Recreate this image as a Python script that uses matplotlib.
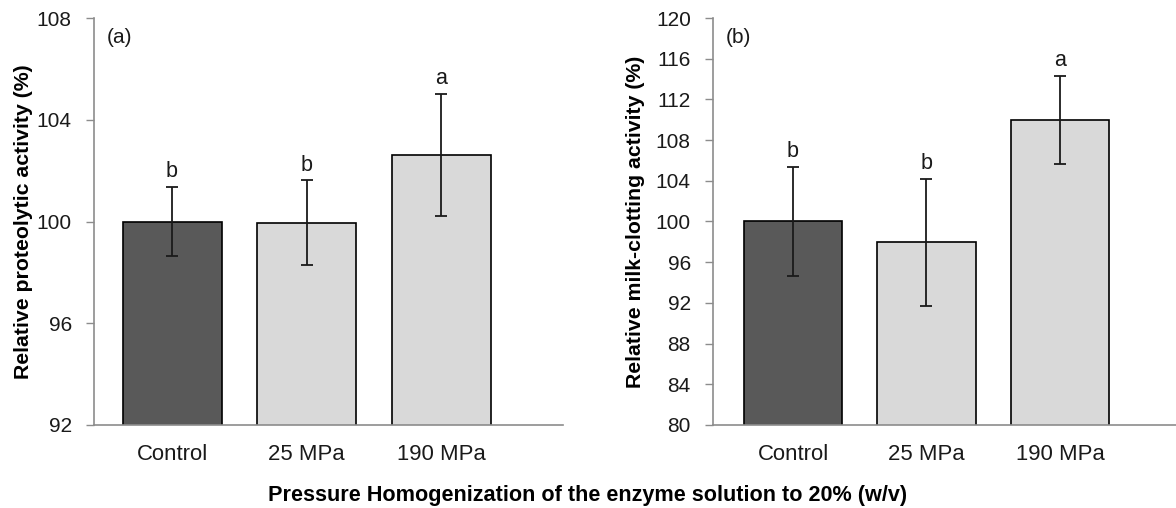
import numpy as np
import matplotlib
matplotlib.use("Agg")
import matplotlib.pyplot as plt

plt.rcParams['font.family'] = ['Liberation Sans', 'DejaVu Sans']

categories = ['Control', '25 MPa', '190 MPa']

prot_mean = [100.0, 99.95, 102.63]
prot_err = [1.37, 1.67, 2.40]
prot_letters = ['b', 'b', 'a']

clot_mean = [100.0, 97.95, 110.0]
clot_err = [5.4, 6.27, 4.3]
clot_letters = ['b', 'b', 'a']

bar_colors = ['#595959', '#d9d9d9', '#d9d9d9']
axis_grey = '#8c8c8c'
text_col = '#1a1a1a'

fig = plt.figure(figsize=(11.76, 5.08), dpi=100)
ax_a = fig.add_axes([94 / 1176, 1 - 425 / 508, 469 / 1176, 407 / 508])
ax_b = fig.add_axes([713 / 1176, 1 - 425 / 508, 463 / 1176, 407 / 508])


def draw_panel(ax, means, errs, letters, ylim, yticks, ylabel, tag, xlim, ylab_x):
    x = np.arange(len(categories))
    ax.bar(x, means, width=0.736, color=bar_colors, edgecolor='black',
           linewidth=1.2, zorder=2)
    ax.errorbar(x, means, yerr=errs, fmt='none', ecolor='#1a1a1a',
                elinewidth=1.3, capsize=4.5, capthick=1.3, zorder=3)
    for xi, m, e, lt in zip(x, means, errs, letters):
        ax.annotate(lt, (xi, m + e), xytext=(0, 7), textcoords='offset points',
                    ha='center', va='baseline', fontsize=15.5, color=text_col)
    ax.set_ylim(*ylim)
    ax.set_xlim(*xlim)
    ax.set_yticks(yticks)
    ax.set_xticks(x)
    ax.set_xticklabels(categories)
    ax.tick_params(axis='x', length=0, pad=14, labelsize=15.9, labelcolor=text_col)
    ax.tick_params(axis='y', length=6, width=1, color=axis_grey, pad=10,
                   labelsize=15, labelcolor=text_col)
    for side in ['top', 'right']:
        ax.spines[side].set_visible(False)
    for side in ['left', 'bottom']:
        ax.spines[side].set_color(axis_grey)
        ax.spines[side].set_linewidth(1.2)
    ax.set_ylabel(ylabel, fontsize=15.3, fontweight='bold', color='black')
    ax.yaxis.set_label_coords(ylab_x, 0.5)
    ax.text(0.027, 0.975, tag, transform=ax.transAxes, fontsize=15,
            va='top', ha='left', color=text_col)


draw_panel(ax_a, prot_mean, prot_err, prot_letters, (92, 108),
           [92, 96, 100, 104, 108], 'Relative proteolytic activity (%)', '(a)',
           (-0.58, 2.907), -0.130)
draw_panel(ax_b, clot_mean, clot_err, clot_letters, (80, 120),
           list(range(80, 121, 4)), 'Relative milk-clotting activity (%)', '(b)',
           (-0.60, 2.87), -0.147)

fig.text(588 / 1176, 1 - 495 / 508,
         'Pressure Homogenization of the enzyme solution to 20% (w/v)',
         ha='center', va='center', fontsize=15.6, fontweight='bold', color='black')

fig.savefig('out.png', dpi=100)
